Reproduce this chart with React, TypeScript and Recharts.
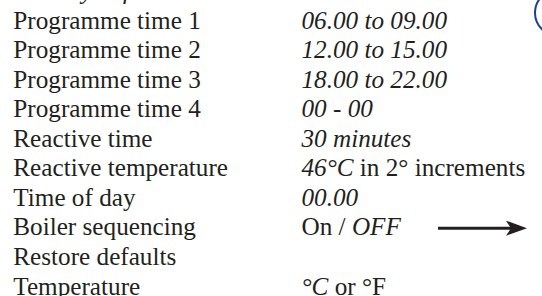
import React from 'react';
import { ComposedChart, Bar, XAxis, YAxis } from 'recharts';

// settings table: name column, value column (_..._ marks italic parts)
const rowNames = [
  'Factory defaults',
  'Programme time 1',
  'Programme time 2',
  'Programme time 3',
  'Programme time 4',
  'Reactive time',
  'Reactive temperature',
  'Time of day',
  'Boiler sequencing',
  'Restore defaults',
  'Temperature',
];
const rowValues = [
  '',
  '_06.00 to 09.00_',
  '_12.00 to 15.00_',
  '_18.00 to 22.00_',
  '_00 - 00_',
  '_30 minutes_',
  '_46°C_ in 2° increments',
  '_00.00_',
  'On / _OFF_',
  '',
  '_°C_ or °F',
];
const headingRow = rowNames[0];
const arrowRow = 'Boiler sequencing';

const data = rowNames.map((name, i) => ({ name, value: rowValues[i] }));

const FONT = 'Liberation Serif';
const INK = '#231f20';

const splitItalic = (s: string) =>
  s.split('_').map((part, i) => ({ part, italic: i % 2 === 1 })).filter(p => p.part !== '');

const RowTick = (props: any) => {
  const { y, payload } = props;
  const idx = payload.index;
  const row = data[idx];
  if (!row) return null;
  const base = y + 8.3;
  return (
    <g>
      <text x={13.3} y={base} fill={INK} fontFamily={FONT} fontSize={25.2}
        fontStyle={idx === 0 ? 'italic' : 'normal'}>
        {row.name}
      </text>
      {row.value && (
        <text x={301.5} y={base} fill={INK} fontFamily={FONT} fontSize={25.2}>
          {splitItalic(row.value).map((p, j) => (
            <tspan key={j} fontFamily={FONT} fontStyle={p.italic ? 'italic' : 'normal'} style={{ whiteSpace: 'pre' }}>{p.part}</tspan>
          ))}
        </text>
      )}
      {row.name === arrowRow && (
        <g>
          <line x1={438} y1={y + 1} x2={513} y2={y + 1} stroke={INK} strokeWidth={3} />
          <path d={`M527,${y + 1} L506,${y - 6.5} L511,${y + 1} L506,${y + 8.5} Z`} fill={INK} />
        </g>
      )}
      {row.name === headingRow && (
        <circle cx={558} cy={y + 22} r={23} fill="none" stroke="#1c3f94" strokeWidth={2} />
      )}
    </g>
  );
};

export default function App() {
  return (
    <div style={{ position: 'absolute', left: 0, top: 0, width: 542, height: 296, overflow: 'hidden', background: '#fff' }}>
      <div style={{ marginTop: -24 }}>
        <ComposedChart layout="vertical" width={542} height={325} data={data}
          margin={{ top: 0, right: 0, bottom: 0, left: 0 }}>
          <XAxis type="number" domain={[0, 542]} hide />
          <YAxis type="category" dataKey="name" width={1} axisLine={false} tickLine={false}
            interval={0} tick={<RowTick />} />
          <Bar dataKey="none" isAnimationActive={false} />
        </ComposedChart>
      </div>
    </div>
  );
}
